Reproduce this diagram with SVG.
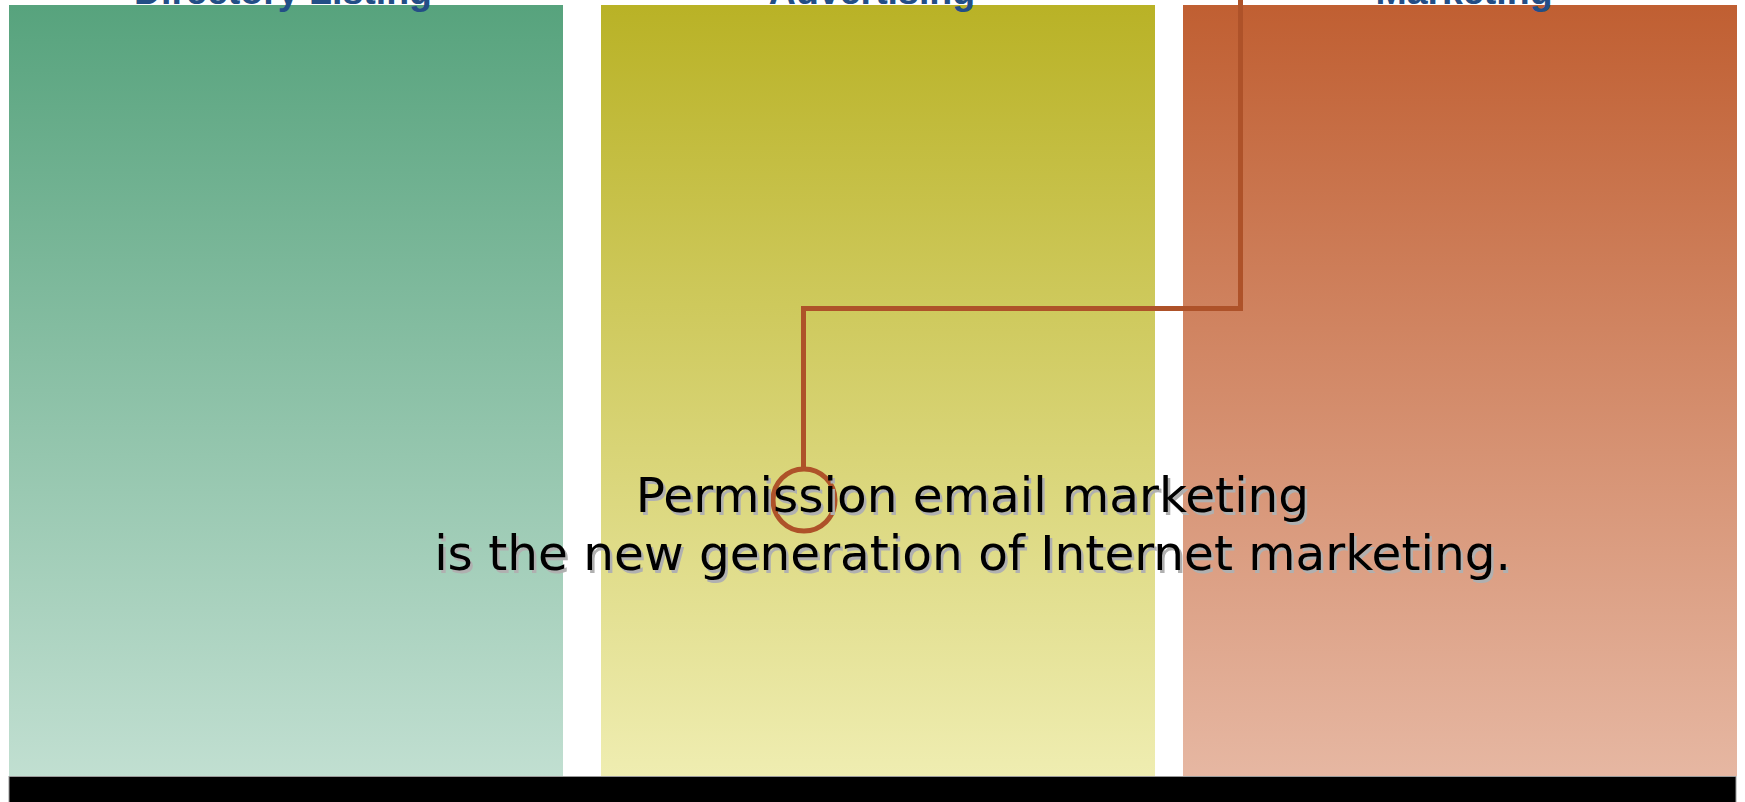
<svg xmlns="http://www.w3.org/2000/svg" width="1745" height="802" viewBox="0 0 1745 802">
  <defs>
    <linearGradient id="gGreen" x1="0" y1="0" x2="0" y2="1">
      <stop offset="0" stop-color="#57A37D"/>
      <stop offset="1" stop-color="#C1DFD1"/>
    </linearGradient>
    <linearGradient id="gYellow" x1="0" y1="0" x2="0" y2="1">
      <stop offset="0" stop-color="#B9B226"/>
      <stop offset="1" stop-color="#EFEDB1"/>
    </linearGradient>
    <linearGradient id="gOrange" x1="0" y1="0" x2="0" y2="1">
      <stop offset="0" stop-color="#C05F32"/>
      <stop offset="1" stop-color="#E6B7A2"/>
    </linearGradient>
  </defs>
  <style>
    .title { font-family: "Liberation Sans", Arial, sans-serif; font-weight: bold; font-size: 37.5px; fill: #234E86; text-anchor: middle; }
    .msg { font-family: "DejaVu Sans", Verdana, sans-serif; font-size: 48.5px; text-anchor: middle; }
    .shadow { fill: #B0B0B0; }
    .ink { fill: #000000; }
    .link { fill: none; stroke: #AE5229; stroke-width: 5; stroke-linejoin: miter; }
  </style>

  <rect width="1745" height="802" fill="#FFFFFF"/>

  <!-- column panels -->
  <g id="directory-listing">
    <rect x="9" y="5" width="554" height="771" fill="url(#gGreen)"/>
  </g>
  <g id="advertising">
    <rect x="601" y="5" width="554" height="771" fill="url(#gYellow)"/>
  </g>
  <g id="marketing">
    <rect x="1183" y="5" width="554" height="771" fill="url(#gOrange)"/>
  </g>

  <!-- column titles -->
  <g id="titles">
    <text class="title" x="283" y="4">Directory Listing</text>
    <text class="title" x="872" y="4">Advertising</text>
    <text class="title" x="1464" y="4">Marketing</text>
  </g>

  <!-- base bar -->
  <g id="base">
    <rect x="9" y="776.5" width="1727" height="30" fill="#000000" stroke="#9A9A9A" stroke-width="1"/>
  </g>

  <!-- callout connector -->
  <g id="connectors">
    <polyline class="link" points="1240.5,0 1240.5,308.5 803.5,308.5 803.5,469"/>
    <circle class="link" cx="804" cy="500" r="31"/>
  </g>

  <!-- message -->
  <g id="message">
    <text class="msg shadow" x="975" y="514.5">Permission email marketing</text>
    <text class="msg shadow" x="975" y="572.5">is the new generation of Internet marketing.</text>
    <text class="msg ink" x="972.5" y="512">Permission email marketing</text>
    <text class="msg ink" x="972.5" y="570">is the new generation of Internet marketing.</text>
  </g>
</svg>
